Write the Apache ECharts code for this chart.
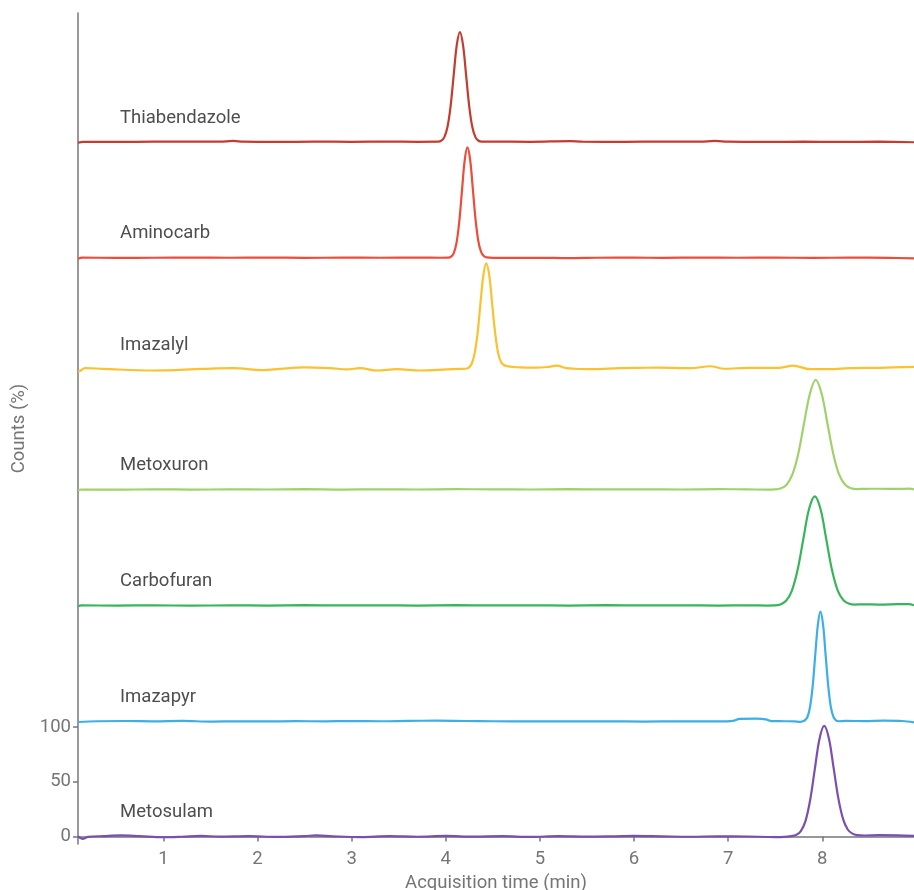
<!DOCTYPE html>
<html>
<head>
<meta charset="utf-8">
<script src="https://cdn.jsdelivr.net/npm/echarts@6/dist/echarts.min.js"></script>
<style>
html, body { margin: 0; padding: 0; background: #fff; }
#main { width: 914px; height: 890px; }
</style>
</head>
<body>
<div id="main"></div>
<script>
// compound names, bottom trace first
var names = ['Metosulam', 'Imazapyr', 'Carbofuran', 'Metoxuron', 'Imazalyl', 'Aminocarb', 'Thiabendazole'];
// vertical stacking offset of each trace (counts %)
var offsets = [0, 105, 211, 317, 427, 529, 635];
var xTicks = [1, 2, 3, 4, 5, 6, 7, 8];
var yTicks = [0, 50, 100];

// [time (min), counts (%)]
var metosulam = [[0.093, 0], [0.14, -2.2], [0.2, -0.5], [0.37, 0.3], [0.55, 0.9], [0.75, 0.2], [1.0, -0.8], [1.2, -0.3],
	[1.4, 0.5], [1.6, -0.2], [1.9, 0.3], [2.2, -0.5], [2.5, 0.3], [2.62, 0.9], [2.8, 0.1], [3.1, -0.6], [3.4, 0.2],
	[3.7, -0.3], [4.0, 0.4], [4.3, -0.2], [4.6, 0.2], [4.9, -0.5], [5.2, 0.3], [5.5, -0.2], [5.8, 0.1], [6.0, 0.4],
	[6.3, 0], [6.6, -0.3], [6.9, 0.1], [7.2, -0.1], [7.5, -0.6], [7.6, -0.4],
	[7.67, 0.3], [7.72, 1.2], [7.77, 4.5], [7.82, 13.7], [7.87, 32.8], [7.92, 61.3], [7.97, 89.1], [8.02, 101],
	[8.07, 89.6], [8.12, 62.6], [8.17, 35], [8.22, 16], [8.27, 6.3], [8.32, 2.5], [8.37, 1.2],
	[8.45, 0.8], [8.6, 1.1], [8.8, 0.9], [8.974, 0.5]];
var imazapyr = [[0.093, -0.4], [0.3, 0.3], [0.6, 0.5], [0.9, 0.2], [1.2, 0.6], [1.5, 0], [1.8, 0.3], [2.1, 0.1],
	[2.4, 0.4], [2.7, 0.2], [3.0, 0.5], [3.3, 0.3], [3.6, 0.6], [3.9, 0.8], [4.2, 0.5], [4.5, 0.3], [4.9, 0.2],
	[5.3, 0.1], [5.7, 0.3], [6.1, 0], [6.5, 0.2], [6.9, 0.1], [7.05, 0.6], [7.12, 2.4], [7.3, 2.6], [7.4, 2.0],
	[7.46, 0.4], [7.6, 0.3], [7.7, 0.2], [7.77, -0.2],
	[7.788, 0.2], [7.815, 1.1], [7.843, 4.4], [7.87, 13.6], [7.898, 32.6], [7.925, 61], [7.953, 88.7], [7.98, 100.5],
	[8.008, 88.7], [8.035, 61], [8.063, 32.6], [8.09, 13.6], [8.118, 4.4], [8.145, 1.1], [8.173, 0.3],
	[8.25, 0.6], [8.45, 0.4], [8.65, 0.8], [8.85, 0.5], [8.974, -0.8]];
var carbofuran = [[0.093, -0.5], [0.13, 0.2], [0.5, 0.1], [0.9, 0.3], [1.3, 0], [1.7, 0.3], [2.1, 0.1], [2.5, 0.4],
	[2.9, 0.2], [3.3, 0.3], [3.7, 0.1], [4.1, 0.4], [4.5, 0.2], [4.9, 0.3], [5.3, 0.1], [5.7, 0.4], [6.1, 0.2],
	[6.5, 0.3], [6.9, 0.1], [7.2, 0.3], [7.42, 0.1],
	[7.493, 0.2], [7.554, 1.1], [7.615, 4.4], [7.676, 13.5], [7.737, 32.5], [7.798, 60.7], [7.859, 88.3], [7.92, 100],
	[7.981, 88.3], [8.042, 60.7], [8.103, 32.5], [8.164, 13.8], [8.225, 5], [8.286, 1.8], [8.347, 1.0],
	[8.42, 1.2], [8.6, 1.0], [8.8, 1.3], [8.92, 1.4], [8.974, 0.3]];
var metoxuron = [[0.093, -0.6], [0.13, 0.2], [0.5, 0], [0.9, 0.4], [1.3, 0.1], [1.7, 0.3], [2.1, 0.2], [2.5, 0.5],
	[2.9, 0.1], [3.3, 0.4], [3.7, 0.2], [4.1, 0.5], [4.5, 0.3], [4.9, 0.2], [5.3, 0.5], [5.7, 0.3], [6.1, 0.4],
	[6.5, 0.2], [6.9, 0.5], [7.2, 0.3], [7.42, 0.1],
	[7.493, 0.3], [7.555, 1.2], [7.618, 4.4], [7.68, 13.5], [7.743, 32.3], [7.805, 60.3], [7.868, 87.8], [7.93, 100.5],
	[7.993, 87.8], [8.055, 60.3], [8.118, 32.3], [8.18, 13.5], [8.243, 4.6], [8.305, 1.4], [8.368, 0.6],
	[8.45, 0.8], [8.6, 0.9], [8.8, 0.7], [8.93, 1.0], [8.974, 0.2]];
var imazalyl = [[0.093, -1.9], [0.115, -1.5], [0.168, 1.2], [0.36, 0.5], [0.89, -1], [1.42, 0.5], [1.74, 1.2],
	[2.06, -0.6], [2.24, 0.5], [2.48, 1.8], [2.77, 1.2], [2.95, 0], [3.09, 1.2], [3.27, -1], [3.48, 0.3], [3.73, -1],
	[4.01, 0], [4.15, 0.5],
	[4.21, 0.6], [4.241, 1.5], [4.273, 4.7], [4.304, 13.6], [4.336, 31.8], [4.367, 59], [4.399, 85.7], [4.43, 97],
	[4.462, 86], [4.493, 59.8], [4.525, 33], [4.556, 15], [4.588, 6.5], [4.62, 3.8], [4.65, 3.0],
	[4.72, 2.2], [4.79, 1.8], [4.95, 1.6], [5.08, 2.2], [5.18, 3.4], [5.28, 1.2], [5.37, 0.6], [5.53, 0.2],
	[5.85, 1.1], [6.05, 1.4], [6.27, 1.7], [6.6, 1.1], [6.81, 2.9], [6.96, 0.6], [7.23, 1.5], [7.55, 1.5],
	[7.69, 3.5], [7.87, 0.2], [8.08, 0.2], [8.29, 1.1], [8.61, 1.5], [8.974, 2.4]];
var aminocarb = [[0.093, -0.8], [0.14, 0.2], [0.5, 0], [0.9, 0.1], [1.3, 0.3], [1.7, 0.1], [2.1, 0.3], [2.5, 0],
	[2.9, 0.2], [3.3, 0.1], [3.7, 0.2], [3.95, 0.1],
	[4.027, 0.2], [4.056, 1.1], [4.085, 4.4], [4.114, 13.7], [4.143, 32.8], [4.172, 61.3], [4.201, 89.1], [4.23, 101],
	[4.259, 89.5], [4.288, 62.5], [4.317, 34.5], [4.346, 15.2], [4.375, 5.5], [4.404, 1.7], [4.433, 0.5],
	[4.6, 0], [5.0, 0.1], [5.3, -0.3], [5.6, 0.1], [6.0, 0.2], [6.3, 0], [6.7, 0.3], [7.1, 0.1], [7.5, 0.2],
	[7.9, 0], [8.3, 0.2], [8.7, 0], [8.974, -0.4]];
var thiabendazole = [[0.093, -0.8], [0.15, 0.1], [0.5, 0], [0.9, 0.2], [1.3, 0.4], [1.6, 0.3], [1.74, 0.9],
	[1.85, 0.2], [2.2, 0], [2.6, 0.3], [3.0, 0.1], [3.4, 0.3], [3.7, 0.1],
	[3.919, 0.2], [3.952, 1.1], [3.985, 4.4], [4.018, 13.6], [4.051, 32.6], [4.084, 61], [4.117, 88.7], [4.15, 100.5],
	[4.183, 88.7], [4.216, 61], [4.249, 32.6], [4.282, 13.6], [4.315, 4.4], [4.348, 1.1], [4.381, 0.3],
	[4.5, 0.3], [4.9, 0.1], [5.32, 0.8], [5.45, 0.2], [5.9, 0.1], [6.3, 0.3], [6.7, 0.2], [6.86, 0.9], [7.0, 0.3],
	[7.4, 0.1], [7.8, 0.2], [8.2, 0], [8.6, 0.2], [8.974, -0.3]];

var traces = [metosulam, imazapyr, carbofuran, metoxuron, imazalyl, aminocarb, thiabendazole];
var colors = ['#7b4fb0', '#3caee8', '#37b55a', '#9fd26a', '#fbc12e', '#ef4b3b', '#c43b30'];

var font = 'Roboto';
var fontSize = 18.5;
var axisColor = '#777777';
var textGrey = '#757575';

var series = [];
var labelPoints = [];
for (var i = 0; i < names.length; i++) {
	var off = offsets[i];
	series.push({
		name: names[i],
		type: 'line',
		showSymbol: false,
		smooth: 0.35,
		silent: true,
		lineStyle: { color: colors[i], width: 2.2 },
		itemStyle: { color: colors[i] },
		data: traces[i].map(function (p) { return [p[0], p[1] + off]; })
	});
	labelPoints.push({ name: names[i], value: [0.54, off + 22] });
}
series.push({
	type: 'scatter',
	symbolSize: 0,
	silent: true,
	data: labelPoints,
	label: {
		show: true,
		position: 'right',
		distance: 0,
		formatter: '{b}',
		color: '#212121',
		fontFamily: font,
		fontSize: fontSize
	}
});

var chart = echarts.init(document.getElementById('main'), null, { renderer: 'canvas' });
chart.setOption({
	animation: false,
	backgroundColor: '#ffffff',
	grid: { left: 78, right: 0, top: 13, bottom: 46, containLabel: false, outerBoundsMode: 'none' },
	xAxis: {
		type: 'value',
		min: 0.093,
		max: 8.974,
		name: 'Acquisition time (min)',
		nameLocation: 'middle',
		nameGap: 26,
		nameTextStyle: { color: textGrey, fontFamily: font, fontSize: fontSize },
		splitLine: { show: false },
		axisLine: { show: true, lineStyle: { color: axisColor, width: 1.5 } },
		axisTick: { show: true, length: 5, customValues: xTicks, lineStyle: { color: axisColor, width: 1.5 } },
		axisLabel: { customValues: xTicks, margin: 6, color: textGrey, fontFamily: font, fontSize: fontSize }
	},
	yAxis: {
		type: 'value',
		min: -6.95,
		max: 752.9,
		name: 'Counts (%)',
		nameLocation: 'middle',
		nameGap: 48,
		nameTextStyle: { color: textGrey, fontFamily: font, fontSize: fontSize },
		splitLine: { show: false },
		axisLine: { show: true, lineStyle: { color: axisColor, width: 1.5 } },
		axisTick: { show: true, length: 5, customValues: yTicks, lineStyle: { color: axisColor, width: 1.5 } },
		axisLabel: { customValues: yTicks, margin: 7, color: textGrey, fontFamily: font, fontSize: fontSize }
	},
	series: series
});
</script>
</body>
</html>
